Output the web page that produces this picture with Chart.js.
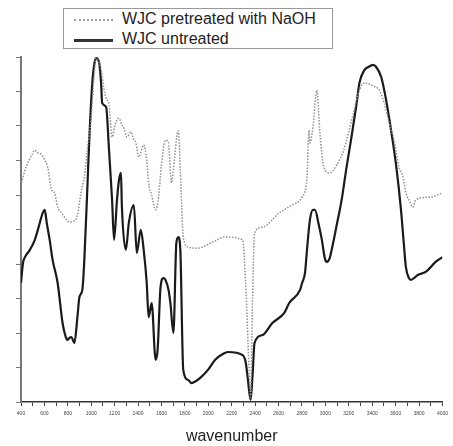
<!DOCTYPE html>
<html lang="en">
<head>
    <meta charset="UTF-8">
    <title>FTIR spectra of WJC</title>
    <style>
        body { margin: 0; background: #fff; }
        #wrap { position: relative; width: 453px; height: 446px; }
        #legend {
            position: absolute; left: 63px; top: 8px; width: 268px; height: 39px;
            border: 1px solid #999; background: #fff;
            font-family: 'Liberation Sans', Arial, sans-serif; font-size: 16px; color: #222;
        }
        .row { position: absolute; left: 0; height: 20px; line-height: 20px; white-space: nowrap; }
        .sample { position: absolute; left: 10px; width: 39px; top: 10px; }
        .label { position: absolute; left: 58px; top: 0; }
    </style>
</head>
<body>
<div id="wrap">
    <canvas id="c" width="453" height="446"></canvas>
    <div id="legend">
        <div class="row" style="top:0px"><span class="sample" style="border-top:2px dotted #999"></span><span class="label">WJC pretreated with NaOH</span></div>
        <div class="row" style="top:20px"><span class="sample" style="border-top:3px solid #333"></span><span class="label">WJC untreated</span></div>
    </div>
</div>

<script src="https://cdn.jsdelivr.net/npm/chart.js"></script>
<script>
    // wavenumber (cm-1) and relative intensity
    const naohX = [405, 434, 459, 493, 518, 544, 578, 603, 628, 662, 687, 713, 747, 772, 814, 856, 882, 916, 941, 966,
        1000, 1025, 1042, 1068, 1093, 1110, 1127, 1152, 1178, 1203, 1237, 1262, 1279, 1305, 1338, 1364, 1381, 1406, 1448, 1474,
        1490, 1516, 1550, 1575, 1600, 1634, 1660, 1685, 1702, 1727, 1744, 1761, 1786, 1829, 1913, 2023, 2141, 2293, 2319, 2353,
        2361, 2378, 2395, 2463, 2606, 2716, 2801, 2843, 2860, 2868, 2894, 2927, 2953, 2987, 3037, 3097, 3156, 3240, 3282, 3333,
        3409, 3460, 3502, 3545, 3587, 3629, 3663, 3688, 3714, 3747, 3773, 3900, 4000];
    const naohY = [63.5, 67.2, 69.3, 71.6, 73.0, 72.2, 71.6, 70.1, 68.1, 61.4, 60.6, 56.5, 54.8, 53.6, 52.2, 52.5, 54.2, 61.4, 65.2, 73.0,
        82.6, 94.8, 99.7, 98.3, 94.8, 90.4, 88.1, 86.1, 76.8, 80.3, 82.3, 80.3, 79.4, 76.8, 78.3, 75.9, 75.1, 71.0, 74.5, 70.1,
        63.5, 60.0, 55.7, 59.4, 68.7, 75.9, 75.1, 63.5, 67.2, 75.9, 78.6, 67.2, 47.8, 44.9, 44.6, 46.1, 47.8, 47.0, 34.5, 5.5,
        1.4, 29.6, 49.0, 50.7, 54.8, 57.1, 59.4, 65.2, 78.8, 75.1, 79.7, 90.4, 78.0, 68.1, 66.4, 68.7, 73.0, 83.8, 89.6, 92.5,
        91.6, 90.4, 86.7, 80.9, 75.9, 68.1, 65.2, 60.6, 58.6, 56.5, 58.6, 59.4, 60.6];

    const rawX = [400, 417, 434, 476, 518, 544, 586, 603, 620, 645, 670, 713, 755, 780, 797, 814, 831, 856, 882, 899,
        924, 941, 966, 983, 1009, 1025, 1042, 1068, 1085, 1093, 1127, 1152, 1178, 1195, 1220, 1237, 1254, 1262, 1296, 1321,
        1364, 1389, 1423, 1448, 1474, 1490, 1516, 1550, 1567, 1592, 1617, 1634, 1660, 1676, 1702, 1727, 1744, 1761, 1786, 1829,
        1854, 1896, 1938, 1997, 2057, 2124, 2167, 2293, 2319, 2336, 2361, 2378, 2395, 2463, 2547, 2649, 2691, 2784, 2801, 2826,
        2843, 2868, 2894, 2911, 2944, 2970, 2995, 3012, 3037, 3054, 3097, 3139, 3181, 3223, 3265, 3291, 3333, 3367, 3409, 3434,
        3477, 3519, 3561, 3604, 3646, 3671, 3688, 3714, 3731, 3756, 3790, 3857, 3942, 4000];
    const rawY = [34.5, 40.3, 42.0, 44.1, 47.0, 49.9, 54.8, 55.7, 51.9, 47.0, 41.2, 34.5, 22.9, 19.1, 18.0, 18.6, 18.8, 17.1, 24.6, 30.4,
        32.5, 41.2, 61.4, 75.9, 92.5, 97.7, 99.7, 98.3, 91.9, 86.7, 85.5, 73.0, 58.6, 47.0, 58.6, 64.3, 66.4, 56.5, 44.1, 51.9,
        57.1, 43.2, 49.9, 44.1, 34.5, 24.6, 28.7, 12.2, 15.1, 33.3, 35.9, 35.4, 32.5, 28.7, 20.0, 46.1, 47.8, 44.1, 9.3, 6.4,
        5.5, 6.1, 7.2, 9.3, 12.2, 13.9, 14.5, 13.6, 11.6, 7.2, 0.6, 7.8, 17.1, 19.4, 22.9, 25.8, 28.7, 32.5, 34.5, 37.4,
        44.1, 52.8, 55.7, 55.7, 51.3, 47.0, 41.7, 40.6, 41.7, 44.1, 51.3, 58.6, 68.1, 76.8, 86.1, 92.5, 96.2, 97.1, 97.7, 97.1,
        94.2, 87.5, 78.8, 68.7, 55.7, 45.5, 39.1, 35.9, 35.4, 35.9, 36.8, 37.7, 40.6, 42.0];

    const xMin = 400, xMax = 4000, xStep = 100;
    const yMin = 0, yMax = 100, yStep = 10;

    const toPoints = (xs, ys) => xs.map((x, i) => ({ x: x, y: ys[i] }));

    new Chart(document.getElementById('c'), {
        type: 'line',
        data: {
            datasets: [
                {
                    label: 'WJC pretreated with NaOH',
                    data: toPoints(naohX, naohY),
                    borderColor: '#909090',
                    borderWidth: 1.5,
                    borderDash: [1.5, 1.5],
                    pointRadius: 0,
                    cubicInterpolationMode: 'monotone'
                },
                {
                    label: 'WJC untreated',
                    data: toPoints(rawX, rawY),
                    borderColor: '#1a1a1a',
                    borderWidth: 2.2,
                    pointRadius: 0,
                    cubicInterpolationMode: 'monotone'
                }
            ]
        },
        options: {
            responsive: false,
            animation: false,
            layout: { padding: { top: 57, right: 6, left: 0, bottom: 0 } },
            plugins: { legend: { display: false }, tooltip: { enabled: false } },
            scales: {
                x: {
                    type: 'linear',
                    min: xMin, max: xMax,
                    afterFit: s => { s.height = 44; },
                    border: { color: '#333', width: 1.5 },
                    grid: { drawOnChartArea: false, drawTicks: true, tickLength: 4, color: '#444' },
                    ticks: {
                        stepSize: xStep,
                        autoSkip: false,
                        maxRotation: 0,
                        padding: 5,
                        color: '#444',
                        font: { family: 'Liberation Sans', size: 5 },
                        callback: v => (v % 200 === 0 ? String(v) : '')
                    },
                    title: {
                        display: true,
                        text: 'wavenumber',
                        color: '#222',
                        padding: { top: 0, bottom: 0 },
                        font: { family: 'Liberation Sans', size: 16 }
                    }
                },
                y: {
                    min: yMin, max: yMax,
                    afterFit: s => { s.width = 21; },
                    border: { color: '#777', width: 2 },
                    grid: { drawOnChartArea: false, drawTicks: true, tickLength: 5, color: '#777' },
                    ticks: { stepSize: yStep, padding: 0, font: { size: 5 }, callback: () => '' }
                }
            }
        }
    });
</script>
</body>
</html>
